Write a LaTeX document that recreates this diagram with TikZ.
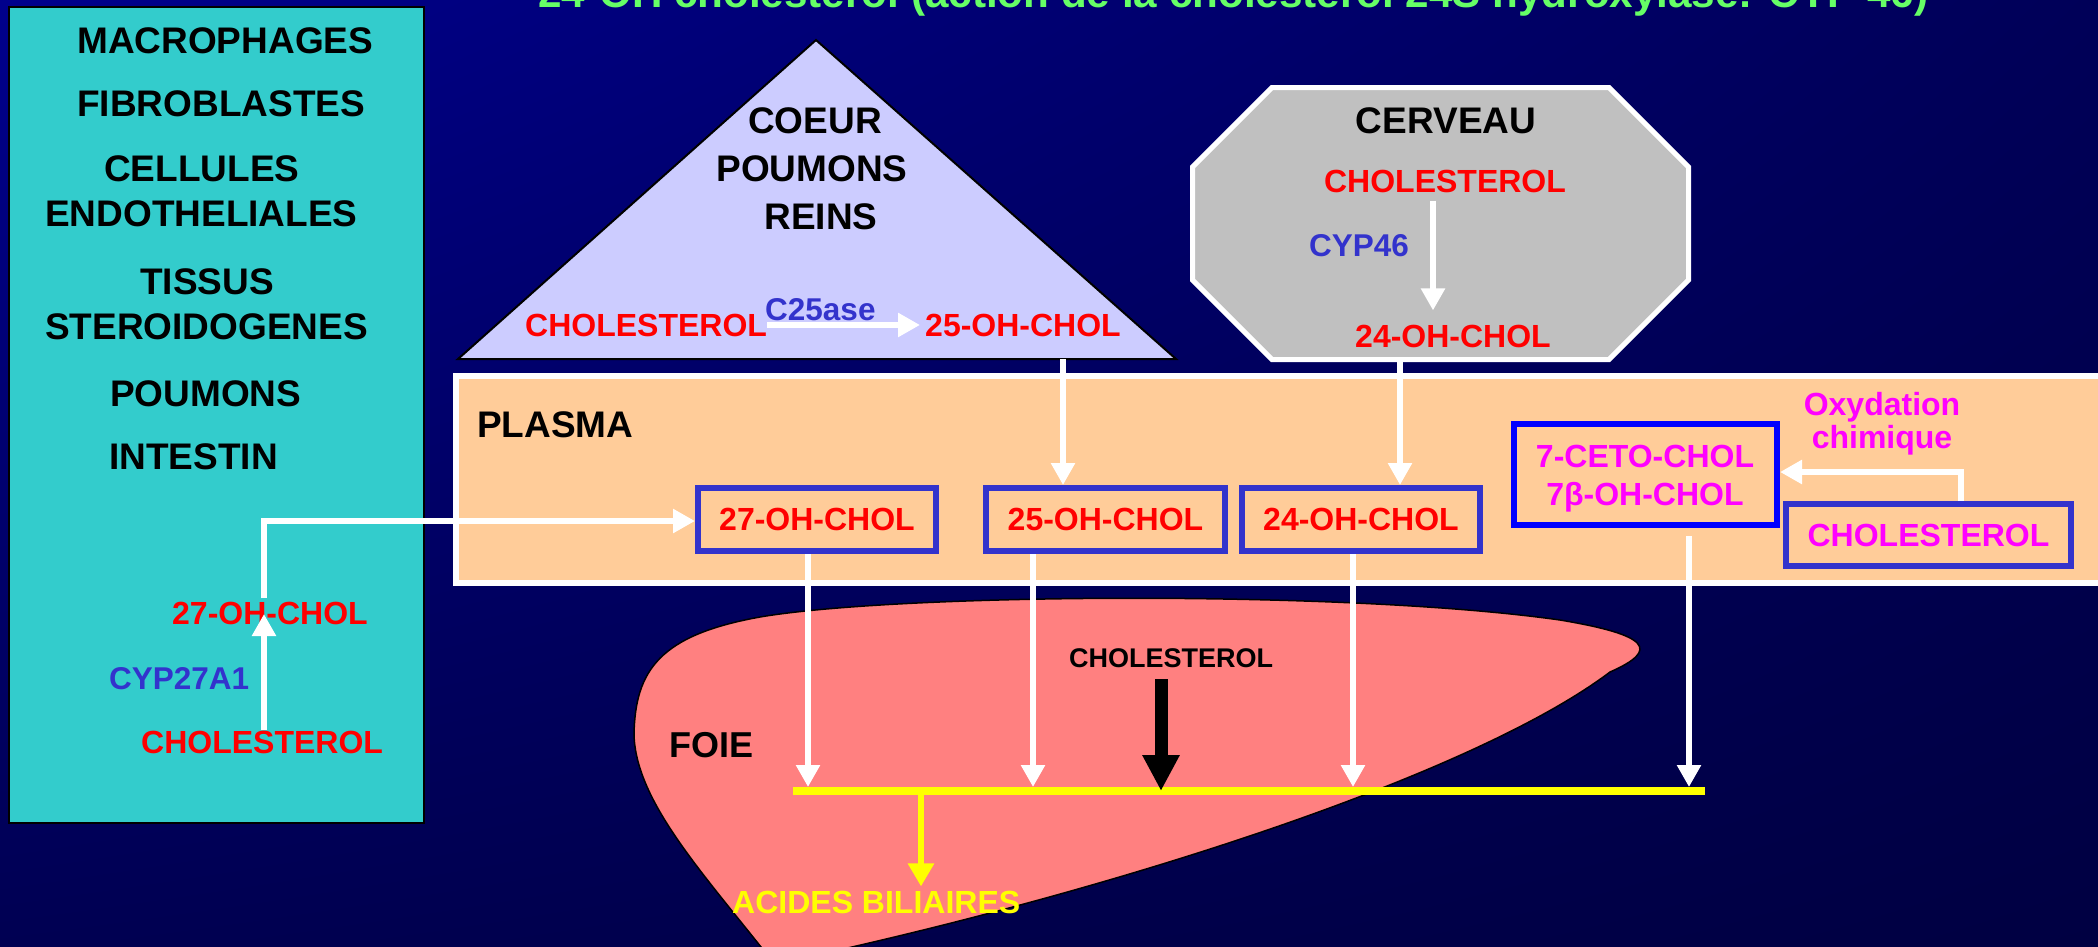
\documentclass[tikz,border=0pt]{standalone}
\usepackage{fontspec}
\setmainfont{Liberation Sans}
\usetikzlibrary{arrows.meta,calc,shadings}
\definecolor{bgUL}{RGB}{0,0,140}
\definecolor{bgUR}{RGB}{0,0,88}
\definecolor{bgLL}{RGB}{0,0,82}
\definecolor{bgLR}{RGB}{0,0,66}
\definecolor{cpanel}{RGB}{51,204,204}
\definecolor{clav}{RGB}{204,204,255}
\definecolor{cgray}{RGB}{192,192,192}
\definecolor{cplasma}{RGB}{255,204,153}
\definecolor{cliver}{RGB}{255,128,128}
\definecolor{cred}{RGB}{255,0,0}
\definecolor{cblue}{RGB}{51,51,204}
\definecolor{cpure}{RGB}{0,0,255}
\definecolor{cmag}{RGB}{255,0,255}
\definecolor{cyel}{RGB}{255,255,0}
\definecolor{tgreen}{RGB}{102,255,102}
\newcommand\fsz[1]{\bfseries\fontsize{#1}{#1}\selectfont}
\begin{document}
\begin{tikzpicture}[x=1pt,y=-1pt,
  big/.style={inner sep=0pt, font=\fsz{37}, text=black},
  chem/.style={inner sep=0pt, font=\fsz{32}, text=cred},
  enz/.style={inner sep=0pt, font=\fsz{31.5}, text=cblue},
  mag/.style={inner sep=0pt, font=\fsz{32}, text=cmag},
  pbox/.style={draw=cblue, line width=6pt, inner sep=0pt, font=\fsz{32}, text=cred},
  warrow/.style={draw=white, line width=6pt, -{Triangle[width=23pt,length=22pt]}},
  wline/.style={draw=white, line width=6pt},
  barrow/.style={draw=black, line width=13pt, -{Triangle[width=35pt,length=36pt]}},
  yarrow/.style={draw=cyel, line width=6pt, -{Triangle[width=25pt,length=23pt]}},
  line join=miter]
\useasboundingbox (0,0) rectangle (2098,946);
\shade[upper left=bgUL, upper right=bgUR, lower left=bgLL, lower right=bgLR] (0,0) rectangle (2098,946);

% title (cut off at top)
\node[inner sep=0pt, anchor=base west, font=\fsz{42.2}, text=tgreen] (title) at (538,7.5)
  {24-OH cholesterol (action de la cholesterol 24S hydroxylase: CYP 46)};

% left panel
\filldraw[fill=cpanel, draw=black, line width=2pt] (9,7) rectangle (424,823);
\node[big, anchor=base west] (macro) at (77,53) {MACROPHAGES};
\node[big, anchor=base west] (fibro) at (77,116) {FIBROBLASTES};
\node[big, anchor=base west] (cell) at (104,181) {CELLULES};
\node[big, anchor=base west] (endo) at (45,226) {ENDOTHELIALES};
\node[big, anchor=base west] (tiss) at (140,294) {TISSUS};
\node[big, anchor=base west] (ster) at (45,339) {STEROIDOGENES};
\node[big, anchor=base west] (poumL) at (110,406) {POUMONS};
\node[big, anchor=base west] (intes) at (109,469) {INTESTIN};
\node[chem, anchor=base west] (ohL) at (172,624) {27-OH-CHOL};
\node[enz, anchor=base west] (cypL) at (109,689) {CYP27A1};
\node[chem, anchor=base west] (cholL) at (141,753) {CHOLESTEROL};

% triangle
\filldraw[fill=clav, draw=black, line width=2pt] (816,40) -- (1176,359) -- (458,359) -- cycle;
\node[big, anchor=base] (coeur) at (815,133) {COEUR};
\node[big, anchor=base] (poumT) at (812,181) {POUMONS};
\node[big, anchor=base] (reins) at (821,229) {REINS};
\node[chem, anchor=base west] (cholT) at (525,336) {CHOLESTEROL};
\node[enz, anchor=base west] (c25) at (765,320) {C25ase};
\node[chem, anchor=base west] (ohT) at (925,336) {25-OH-CHOL};

% octagon
\filldraw[fill=cgray, draw=white, line width=5pt]
  (1272,87.5) -- (1609,87.5) -- (1688.5,167) -- (1688.5,280) -- (1609,359.5)
  -- (1272,359.5) -- (1192.5,280) -- (1192.5,167) -- cycle;
\node[big, anchor=base] (cerv) at (1446,133) {CERVEAU};
\node[chem, anchor=base] (cholC) at (1445,192) {CHOLESTEROL};
\node[enz, anchor=base west] (cyp46) at (1309,256) {CYP46};
\node[chem, anchor=base] (ohC) at (1453,347) {24-OH-CHOL};

% plasma band
\filldraw[fill=cplasma, draw=white, line width=6pt] (456,376) rectangle (2130,583);
\node[big, anchor=base west] (plasma) at (477,437) {PLASMA};
\node[pbox, minimum width=238pt, minimum height=63pt] (box27) at (817,519.5) {27-OH-CHOL};
\node[pbox, minimum width=239pt, minimum height=63pt] (box25) at (1105.5,519.5) {25-OH-CHOL};
\node[pbox, minimum width=238pt, minimum height=63pt] (box24) at (1361,519.5) {24-OH-CHOL};
\node[draw=cpure, line width=6pt, inner sep=0pt, minimum width=263pt, minimum height=101pt] (ceto) at (1645.5,474.5) {};
\node[mag, anchor=base] (ceto1) at (1645,467) {7-CETO-CHOL};
\node[mag, anchor=base] (ceto2) at (1645,505) {7β-OH-CHOL};
\node[pbox, text=cmag, minimum width=285pt, minimum height=62pt] (cholP) at (1928.5,535) {CHOLESTEROL};
\node[mag, anchor=base] (oxy1) at (1882,415) {Oxydation};
\node[mag, anchor=base] (oxy2) at (1882,448) {chimique};

% liver
\filldraw[fill=cliver, draw=black, line width=1.5pt]
  (634,735) .. controls (635,670) and (660,635) .. (760,617)
  .. controls (900,593) and (1350,590) .. (1560,620)
  .. controls (1650,635) and (1660,650) .. (1610,672)
  .. controls (1480,770) and (1150,880) .. (830,952)
  -- (765,952)
  .. controls (700,870) and (636,800) .. (634,735) -- cycle;
\node[inner sep=0pt, font=\fsz{36}, anchor=base west] (foie) at (669,757) {FOIE};
\node[inner sep=0pt, font=\fsz{27}, anchor=base west] (cholF) at (1069,667) {CHOLESTEROL};
\node[inner sep=0pt, font=\fsz{32}, text=cyel, anchor=base west] (acides) at (732,913) {ACIDES BILIAIRES};

% bar
\coordinate (barL) at (793,791);
\coordinate (barR) at (1705,791);
\draw[cyel, line width=8pt] (barL) -- (barR);

% left panel connectors
\coordinate (tipL) at (264,614);
\coordinate (bend) at (264,521);
\draw[warrow] (cholL.north -| tipL) -- (tipL);
\draw[warrow] ($(ohL.north -| bend)+(0,-3)$) -- (bend) -- (bend -| box27.west);

% triangle / octagon connectors
\draw[warrow, shorten >=5pt] (cholT.east) -- (ohT.west);
\coordinate (c25x) at (1063,359);
\draw[warrow] (c25x) -- (c25x |- box25.north);
\coordinate (cv) at (1433,0);
\draw[warrow] ($(cholC.south -| cv)+(0,8)$) -- ($(ohC.north -| cv)+(0,-14)$);
\coordinate (c24x) at (1400,362);
\draw[warrow] (c24x) -- (c24x |- box24.north);

% oxidation arrow
\coordinate (oxB) at (1961,472);
\draw[warrow] (cholP.north -| oxB) -- (oxB) -- (oxB -| ceto.east);

% down arrows to bar
\coordinate (d27) at (808,787);
\coordinate (d25) at (1033,787);
\coordinate (d24) at (1353,787);
\coordinate (d7) at (1689,787);
\draw[warrow] (box27.south -| d27) -- (d27);
\draw[warrow] (box25.south -| d25) -- (d25);
\draw[warrow] (box24.south -| d24) -- (d24);
\draw[warrow] ($(ceto.south -| d7)+(0,8)$) -- (d7);

% liver arrows
\coordinate (fx) at (1161,791);
\draw[barrow] ($(cholF.south -| fx)+(0,12)$) -- (fx);
\coordinate (yx) at (921,791);
\draw[yarrow] (yx) -- ($(acides.north -| yx)+(0,-4)$);
\end{tikzpicture}
\end{document}
